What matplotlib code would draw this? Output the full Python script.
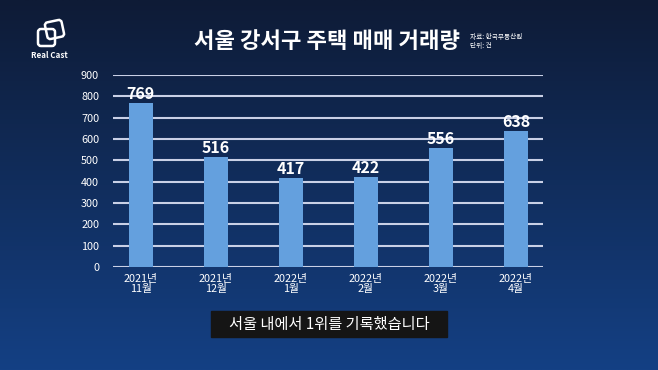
import matplotlib.pyplot as plt
import numpy as np
from matplotlib.patches import FancyBboxPatch, Rectangle
import matplotlib.transforms as mtransforms

plt.rcParams['font.family'] = ['Noto Sans CJK KR', 'DejaVu Sans']

# data
months = ['2021년\n11월', '2021년\n12월', '2022년\n1월', '2022년\n2월', '2022년\n3월', '2022년\n4월']
values = [769, 516, 417, 422, 556, 638]
yticks = [0, 100, 200, 300, 400, 500, 600, 700, 800, 900]

W, H = 658, 370
fig = plt.figure(figsize=(W / 100, H / 100), dpi=100)

# fond en dégradé
bg = fig.add_axes([0, 0, 1, 1], zorder=-10)
top = np.array([0x0e, 0x1b, 0x36]) / 255
bot = np.array([0x14, 0x40, 0x84]) / 255
g = np.linspace(0, 1, 256)[:, None]
grad = top[None, None, :] * (1 - g[..., None]) + bot[None, None, :] * g[..., None]
grad = np.repeat(grad, 2, axis=1)
bg.imshow(grad, aspect='auto', extent=[0, W, H, 0], origin='upper')
bg.set_xlim(0, W)
bg.set_ylim(H, 0)
bg.axis('off')

def fx(px):
    return px / W

def fy(py):
    return 1 - py / H

# graphique
ax = fig.add_axes([fx(113), fy(267), fx(543) - fx(113), fy(75) - fy(267)])
ax.patch.set_alpha(0)
x = np.arange(len(values))
ax.bar(x, values, width=0.32, color='#64a0de', zorder=3)
for yv in yticks:
    ax.axhline(yv, color='#c9d0e6', lw=1.5, zorder=1)
ax.set_ylim(0, 900)
ax.set_xlim(-0.37, 5.36)
ax.set_yticks(yticks)
ax.set_yticklabels([str(v) for v in yticks], color='white', fontsize=7.8)
ax.set_xticks(x)
ax.set_xticklabels(months, color='white', fontsize=7.8, linespacing=1.0)
ax.tick_params(length=0, pad=5)
ax.tick_params(axis='y', pad=10)
for s in ax.spines.values():
    s.set_visible(False)
for xi, v in zip(x, values):
    ax.text(xi, v + 6, str(v), ha='center', va='bottom', color='white',
            fontsize=11.5, fontweight='bold', zorder=4)

# titre
fig.text(fx(327), fy(42), '서울 강서구 주택 매매 거래량', ha='center', va='center',
         color='white', fontsize=16, fontweight='bold')
fig.text(fx(470), fy(37), '자료: 한국부동산원', ha='left', va='center', color='white', fontsize=4.8)
fig.text(fx(470), fy(46), '단위: 건', ha='left', va='center', color='white', fontsize=4.8)

# logo (coordonnées en pixels dans bg)
back = FancyBboxPatch((46, 21), 17, 17, boxstyle='round,pad=0,rounding_size=3',
                      fill=False, ec='white', lw=1.8,
                      transform=mtransforms.Affine2D().rotate_deg_around(54.5, 29.5, -12) + bg.transData)
front = FancyBboxPatch((38, 29), 17, 17, boxstyle='round,pad=0,rounding_size=3',
                       fill=False, ec='white', lw=1.8, transform=bg.transData)
bg.add_patch(back)
bg.add_patch(front)
fig.text(fx(49), fy(56), 'Real Cast', ha='center', va='center', color='white',
         fontsize=5.8, fontweight='bold')

# sous-titre
fig.add_artist(Rectangle((fx(211), fy(337)), fx(447) - fx(211), fy(311) - fy(337),
                         transform=fig.transFigure, color='#151515'))
fig.text(fx(329), fy(324), '서울 내에서 1위를 기록했습니다', ha='center', va='center',
         color='white', fontsize=11)

fig.savefig('out.png', dpi=100)
